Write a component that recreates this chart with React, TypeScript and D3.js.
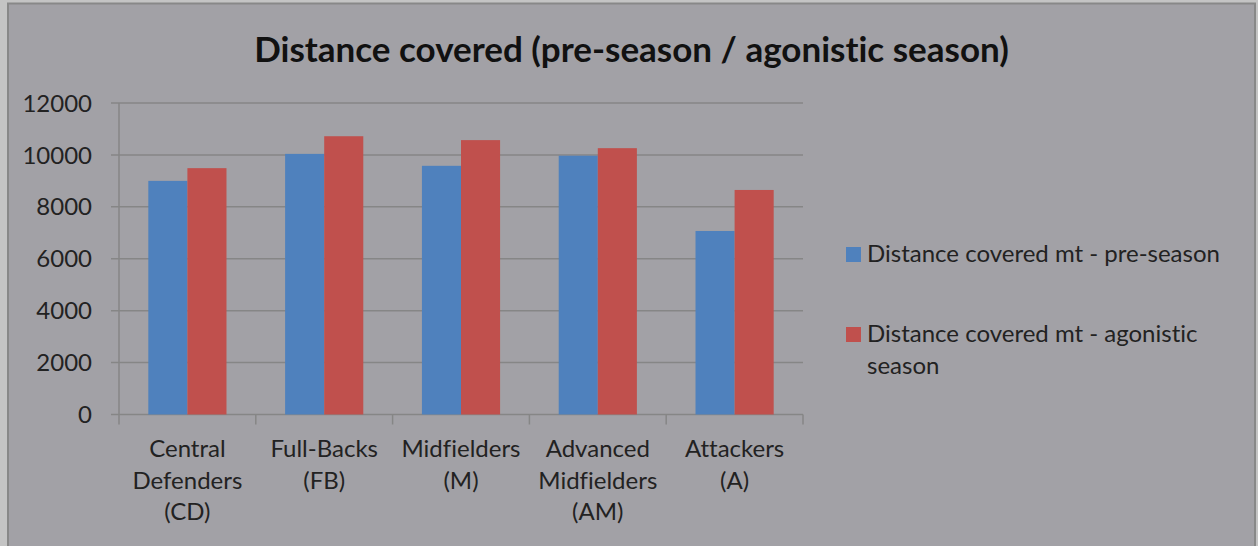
import React from "react";
import * as d3 from "d3";

// Distance covered by playing position, two training periods
const categories: string[][] = [
  ["Central", "Defenders", "(CD)"],
  ["Full-Backs", "(FB)"],
  ["Midfielders", "(M)"],
  ["Advanced", "Midfielders", "(AM)"],
  ["Attackers", "(A)"],
];
const preSeason: number[] = [9000, 10040, 9580, 9970, 7070];
const agonisticSeason: number[] = [9490, 10720, 10570, 10260, 8650];
const seriesNames: string[][] = [
  ["Distance covered mt - pre-season"],
  ["Distance covered mt - agonistic", "season"],
];
const yTicks: number[] = [0, 2000, 4000, 6000, 8000, 10000, 12000];
const title = "Distance covered (pre-season / agonistic season)";

const W = 1258;
const H = 546;
const BG = "#a2a1a6";
const GRID = "#868686";
const BLUE = "#4f81bd";
const RED = "#c0504d";
const FONT = "Lato, 'DejaVu Sans', sans-serif";
const LABEL_SIZE = 24;
const textStyle = { fontVariantLigatures: "none" as const };

export default function App() {
  const plot = { left: 119, right: 803, top: 103, bottom: 414.5 };
  const keys = categories.map((c) => c.join(" "));
  const x = d3.scaleBand<string>().domain(keys).range([plot.left, plot.right]);
  const xInner = d3
    .scaleBand<string>()
    .domain(["pre", "ago"])
    .range([0, x.bandwidth()])
    .paddingInner(0)
    .paddingOuter(0.75);
  const y = d3.scaleLinear().domain([0, 12000]).range([plot.bottom, plot.top]);
  const series = [
    { key: "pre", values: preSeason, color: BLUE },
    { key: "ago", values: agonisticSeason, color: RED },
  ];
  const bandEdges = [...keys.map((k) => x(k)!), plot.right];

  return (
    <svg
      width={W}
      height={H}
      style={{ position: "absolute", left: 0, top: 0, display: "block" }}
    >
      <rect x={0} y={0} width={W} height={H} fill="#c4c4c4" />
      <rect x={8} y={3.5} width={1247} height={H} fill={BG} stroke="#888" strokeWidth={2} />

      <text
        x={631.5}
        y={62}
        textAnchor="middle"
        fontFamily={FONT}
        fontWeight={700}
        fontSize={35}
        fill="#111"
        style={textStyle}
      >
        {title}
      </text>

      {/* gridlines with outside tick marks */}
      {yTicks.map((t) => (
        <g key={t}>
          <line x1={plot.left - 8} x2={plot.right} y1={y(t)} y2={y(t)} stroke={GRID} strokeWidth={1.5} />
          <text
            x={92}
            y={y(t)}
            dy="0.36em"
            textAnchor="end"
            fontFamily={FONT}
            fontSize={LABEL_SIZE}
            fill="#222"
            style={textStyle}
          >
            {t}
          </text>
        </g>
      ))}
      <line x1={plot.left} x2={plot.left} y1={plot.top} y2={plot.bottom + 10} stroke={GRID} strokeWidth={1.5} />
      {bandEdges.slice(1).map((bx, i) => (
        <line key={i} x1={bx} x2={bx} y1={plot.bottom} y2={plot.bottom + 10} stroke={GRID} strokeWidth={1.5} />
      ))}

      {/* bars */}
      {series.map((s) =>
        s.values.map((v, i) => (
          <rect
            key={s.key + i}
            x={x(keys[i])! + xInner(s.key)!}
            y={y(v)}
            width={xInner.bandwidth()}
            height={y(0) - y(v)}
            fill={s.color}
          />
        ))
      )}

      {/* category labels */}
      {categories.map((lines, i) => (
        <text
          key={i}
          x={x(keys[i])! + x.bandwidth() / 2}
          y={457}
          textAnchor="middle"
          fontFamily={FONT}
          fontSize={LABEL_SIZE}
          fill="#222"
          style={textStyle}
        >
          {lines.map((l, j) => (
            <tspan key={j} x={x(keys[i])! + x.bandwidth() / 2} dy={j === 0 ? 0 : 31.5}>
              {l}
            </tspan>
          ))}
        </text>
      ))}

      {/* legend */}
      {seriesNames.map((lines, i) => {
        const baseY = i === 0 ? 262 : 342;
        return (
          <g key={i}>
            <rect x={846} y={baseY - 15} width={15} height={15} fill={series[i].color} />
            <text x={867} y={baseY} fontFamily={FONT} fontSize={LABEL_SIZE} fill="#222" style={textStyle}>
              {lines.map((l, j) => (
                <tspan key={j} x={867} dy={j === 0 ? 0 : 31.5}>
                  {l}
                </tspan>
              ))}
            </text>
          </g>
        );
      })}
    </svg>
  );
}
